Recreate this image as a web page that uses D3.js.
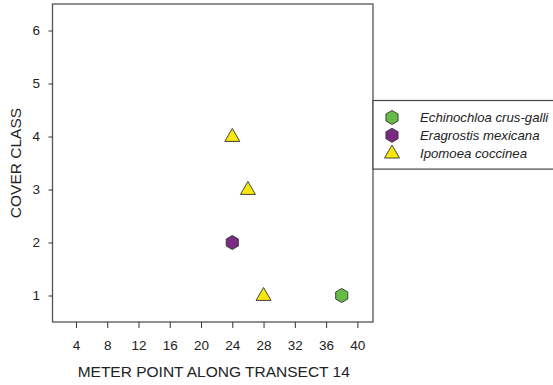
<!DOCTYPE html>
<html>
<head>
<meta charset="utf-8">
<script src="https://cdn.jsdelivr.net/npm/d3@7"></script>
<style>
  body { margin: 0; background: #fff; }
  svg { display: block; font-family: "Liberation Sans", Arial, sans-serif; }
</style>
</head>
<body>
<svg id="chart" width="553" height="385"></svg>
<script>
// ---- data ----
const seriesNames = ["Echinochloa crus-galli", "Eragrostis mexicana", "Ipomoea coccinea"];
const echinochloaX = [38];
const echinochloaY = [1];
const eragrostisX = [24];
const eragrostisY = [2];
const ipomoeaX = [24, 26, 28];
const ipomoeaY = [4, 3, 1];
const xTicks = [4, 8, 12, 16, 20, 24, 28, 32, 36, 40];
const yTicks = [1, 2, 3, 4, 5, 6];
const xTitle = "METER POINT ALONG TRANSECT 14";
const yTitle = "COVER CLASS";

// ---- layout ----
const L = 52.5, R = 373, T = 4, B = 322;
const svg = d3.select("#chart");
const x = d3.scaleLinear().domain([1, 42]).range([L, R]);
const y = d3.scaleLinear().domain([0.5, 6.5]).range([B, T]);

const series = [
  { name: seriesNames[0], xs: echinochloaX, ys: echinochloaY, shape: "hex", fill: "#66bb46" },
  { name: seriesNames[1], xs: eragrostisX, ys: eragrostisY, shape: "hex", fill: "#7a2a83" },
  { name: seriesNames[2], xs: ipomoeaX, ys: ipomoeaY, shape: "tri", fill: "#f6e70c" }
];

function hexPath(r) {
  const pts = d3.range(6).map(i => {
    const a = Math.PI / 6 + i * Math.PI / 3;
    return [r * Math.cos(a), r * Math.sin(a)];
  });
  return "M" + pts.map(p => p.join(",")).join("L") + "Z";
}
function triPath(s) {
  const h = s * Math.sqrt(3) / 2;
  return `M0,${-h * 0.62}L${s / 2},${h * 0.38}L${-s / 2},${h * 0.38}Z`;
}
function shapePath(shape) { return shape === "hex" ? hexPath(7) : triPath(15); }

// frame
svg.append("rect").attr("x", L).attr("y", T).attr("width", R - L).attr("height", B - T)
  .attr("fill", "none").attr("stroke", "#555").attr("stroke-width", 1.3);

// axes
const xAxis = d3.axisBottom(x).tickValues(xTicks).tickSize(6).tickPadding(12).tickFormat(d3.format("d"));
const gx = svg.append("g").attr("transform", `translate(0,${B})`).call(xAxis);
gx.select(".domain").remove();
gx.selectAll("line").attr("stroke", "#333");
gx.selectAll("text").attr("font-size", "13.5px").attr("fill", "#222").attr("font-family", "Liberation Sans, Arial, sans-serif");

const yAxis = d3.axisLeft(y).tickValues(yTicks).tickSize(4).tickPadding(8.5).tickFormat(d3.format("d"));
const gy = svg.append("g").attr("transform", `translate(${L},0)`).call(yAxis);
gy.select(".domain").remove();
gy.selectAll("line").attr("stroke", "#333");
gy.selectAll("text").attr("font-size", "13.5px").attr("fill", "#222").attr("font-family", "Liberation Sans, Arial, sans-serif");

// titles
svg.append("text").attr("x", (L + R) / 2 + 1).attr("y", 377).attr("text-anchor", "middle")
  .attr("font-size", "15.5px").attr("fill", "#222").text(xTitle);
svg.append("text").attr("transform", `translate(20.5,${(T + B) / 2}) rotate(-90)`)
  .attr("text-anchor", "middle").attr("font-size", "15.5px").attr("fill", "#222").text(yTitle);

// points
series.forEach(s => {
  svg.append("g").selectAll("path").data(s.xs.map((v, i) => [v, s.ys[i]])).enter()
    .append("path")
    .attr("d", shapePath(s.shape))
    .attr("transform", d => `translate(${x(d[0])},${y(d[1])})`)
    .attr("fill", s.fill).attr("stroke", "#333").attr("stroke-width", 0.9);
});

// legend
const legTop = 100.5, rowH = 17.8, legFirst = 117.5;
const legBottom = legFirst + rowH * 2 + 16;
svg.append("rect").attr("x", R).attr("y", legTop).attr("width", 553 - R + 5).attr("height", legBottom - legTop)
  .attr("fill", "#fff").attr("stroke", "#444").attr("stroke-width", 1.2);
series.forEach((s, i) => {
  const cy = legFirst + i * rowH;
  svg.append("path").attr("d", shapePath(s.shape))
    .attr("transform", `translate(392,${cy})`)
    .attr("fill", s.fill).attr("stroke", "#333").attr("stroke-width", 0.9);
  svg.append("text").attr("x", 420).attr("y", cy + 4.5).attr("font-size", "13.2px")
    .attr("font-style", "italic").attr("fill", "#222").text(s.name);
});
</script>
</body>
</html>
